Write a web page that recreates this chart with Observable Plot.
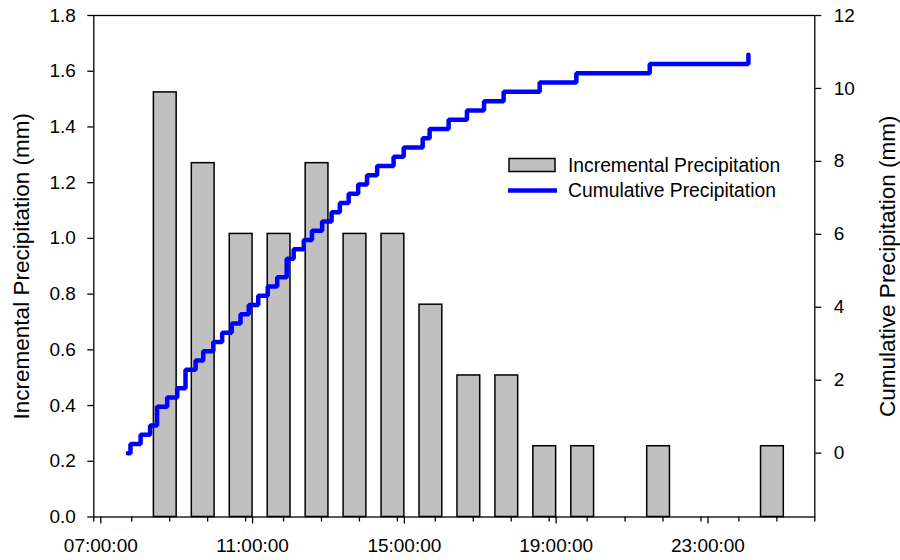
<!DOCTYPE html>
<html><head><meta charset="utf-8">
<script src="https://cdn.jsdelivr.net/npm/d3@7"></script>
<script src="https://cdn.jsdelivr.net/npm/@observablehq/plot@0.6"></script>
<style>
body{margin:0;background:#fff;}
#chart{width:900px;height:560px;}
</style></head><body><div id="chart"></div>
<script>
// Hourly (hour-ending) incremental precipitation, mm
const barHours = ["09:00","10:00","11:00","12:00","13:00","14:00","15:00","16:00","17:00","18:00","19:00","20:00","22:00","01:00"];
const barValues = [1.524,1.27,1.016,1.016,1.27,1.016,1.016,0.762,0.508,0.508,0.254,0.254,0.254,0.254];
// Cumulative precipitation at each bucket tip, mm
const cumTimes = ["07:54","07:58","08:14","08:29","08:40","08:56","09:12","09:25","09:41","09:53","10:09","10:23","10:38","10:52","11:05","11:20","11:35","11:50","12:05","12:16","12:32","12:45","13:01","13:16","13:29","13:43","13:58","14:12","14:28","14:54","15:10","15:40","15:51","16:21","16:50","17:17","17:48","18:45","19:43","21:39","00:15"];
const cumValues = [0,0.254,0.508,0.762,1.27,1.524,1.778,2.286,2.54,2.794,3.048,3.302,3.556,3.81,4.064,4.318,4.572,4.826,5.334,5.588,5.842,6.096,6.35,6.604,6.858,7.112,7.366,7.62,7.874,8.128,8.382,8.636,8.89,9.144,9.398,9.652,9.906,10.16,10.414,10.668,10.922];
const xTickLabels = ["07:00:00","11:00:00","15:00:00","19:00:00","23:00:00"];
const leftTicks = [0,0.2,0.4,0.6,0.8,1.0,1.2,1.4,1.6,1.8];
const rightTicks = [0,2,4,6,8,10,12];
const xStart = "07:00", xEnd = "02:00";
const leftDomain = [0, 1.8];
const rightDomain = [-1.75, 12];
const seriesNames = ["Incremental Precipitation","Cumulative Precipitation"];

const base = Date.UTC(2000,0,1);
function toDate(s){
  const [h,m] = s.split(":").map(Number);
  const hh = h < 7 ? h + 24 : h;
  return new Date(base + (hh*60 + m)*60000);
}
const addMin = (d, m) => new Date(+d + m*60000);

const bars = barHours.map((h,i) => ({t: toDate(h), v: barValues[i]}));
const cum = cumTimes.map((s,i) => ({t: toDate(s), v: cumValues[i]}));
const k = (leftDomain[1]-leftDomain[0])/(rightDomain[1]-rightDomain[0]);
const toLeft = v => (v - rightDomain[0])*k;
const majorDates = xTickLabels.map(s => toDate(s.slice(0,5)));
const hourDates = d3.utcHour.range(toDate(xStart), addMin(toDate(xEnd),1));

const font = "'Liberation Sans', Arial, sans-serif";
const fs = 19;

const plot = Plot.plot({
  width: 900, height: 560,
  marginLeft: 93.3, marginRight: 85.7, marginTop: 15, marginBottom: 43.5,
  style: {fontFamily: font, fontSize: fs + "px", color: "black", background: "white"},
  x: {type: "utc", domain: [toDate(xStart), toDate(xEnd)]},
  y: {domain: leftDomain},
  marks: [
    Plot.rect(bars, {x1: d => addMin(d.t,-25), x2: d => addMin(d.t,11), y1: 0, y2: "v", fill: "#c0c0c0", stroke: "black", strokeWidth: 1.5}),
    Plot.line(cum, {x: "t", y: d => toLeft(d.v), stroke: "#0000ff", strokeWidth: 4.5, curve: "step-after", strokeLinejoin: "miter"}),
    Plot.frame({stroke: "black", strokeWidth: 1.3}),
    Plot.axisY(leftTicks, {anchor: "left", tickSize: 6, tickPadding: 12, tickFormat: d3.format(".1f"), label: null, strokeWidth: 1.3, fontSize: fs}),
    Plot.axisY(rightTicks.map(toLeft), {anchor: "right", tickSize: 6, tickPadding: 13, tickFormat: d => String(Math.round(d/k + rightDomain[0])), label: null, strokeWidth: 1.3, fontSize: fs}),
    Plot.axisX(hourDates, {anchor: "bottom", tickSize: 5, tickFormat: () => "", label: null, strokeWidth: 1.3}),
    Plot.axisX(majorDates, {anchor: "bottom", tickSize: 7, tickPadding: 14, dx: 7, tickFormat: d => xTickLabels[majorDates.findIndex(m => +m === +d)], label: null, strokeWidth: 1.3, fontSize: fs}),
    Plot.text(["Incremental Precipitation (mm)"], {frameAnchor: "left", textAnchor: "middle", rotate: -90, dx: -72, dy: 0, fontSize: 22.5, text: d => d}),
    Plot.text(["Cumulative Precipitation (mm)"], {frameAnchor: "right", textAnchor: "middle", rotate: -90, dx: 73, dy: 0, fontSize: 22.5, text: d => d})
  ]
});
document.getElementById("chart").appendChild(plot);

// Legend inside the plot area
const svg = d3.select(plot);
const lg = svg.append("g").attr("font-family", font).attr("font-size", 19.3).attr("text-anchor", "start");
lg.append("rect").attr("x", 509).attr("y", 158.5).attr("width", 46).attr("height", 13)
  .attr("fill", "#c0c0c0").attr("stroke", "black").attr("stroke-width", 1.5);
lg.append("text").attr("x", 568).attr("y", 165).attr("dy", "0.35em").text(seriesNames[0]);
lg.append("line").attr("x1", 508).attr("x2", 557).attr("y1", 190.5).attr("y2", 190.5)
  .attr("stroke", "#0000ff").attr("stroke-width", 4.5);
lg.append("text").attr("x", 568).attr("y", 190.5).attr("dy", "0.35em").text(seriesNames[1]);
</script>
</body></html>
